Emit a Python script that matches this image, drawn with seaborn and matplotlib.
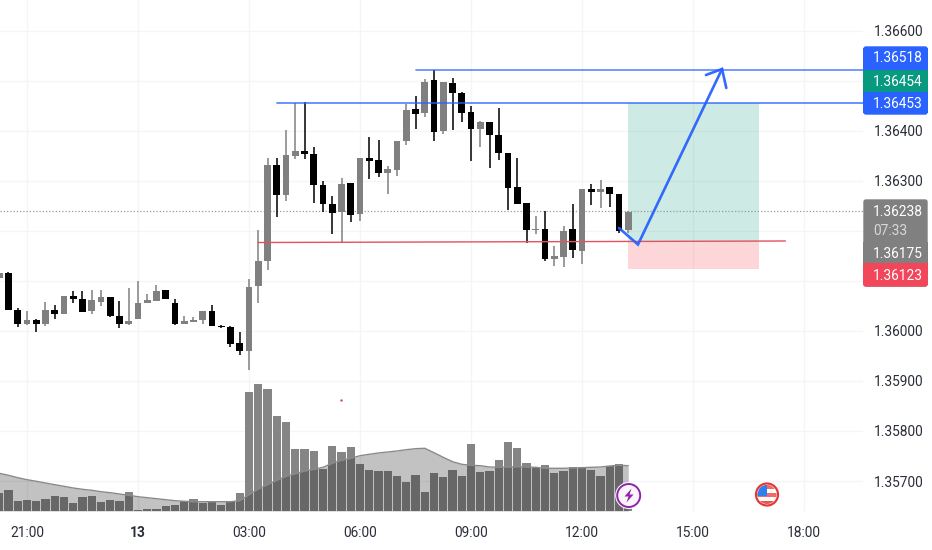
import numpy as np
import pandas as pd
import matplotlib
matplotlib.use("Agg")
import matplotlib.pyplot as plt
from matplotlib.patches import Rectangle, FancyBboxPatch, Circle, Polygon
import seaborn as sns

# bar index: 0 is the 03:00 candle, one bar is 15 minutes
bar_index = list(range(-27, 42))

opens = [136106,136116,136043,136014,136023,136014,136042,136035,136071,136065,136040,136059,136069,136030,136014,136024,136057,136061,136083,136057,136014,136019,136022,136040,136011,136009,135977,
         135960,136091,136141,136331,136273,136351,136359,136354,136293,136254,136238,136297,136234,136347,136342,136317,136323,136380,136444,136437,136501,136400,136497,136477,136439,136404,136419,136392,136355,136288,136257,136202,136205,136145,136149,136203,136161,136284,136279,136289,136275,136203]
highs = [136116,136118,136046,136040,136025,136059,136052,136071,136081,136080,136083,136082,136069,136060,136087,136101,136074,136093,136083,136065,136030,136029,136039,136053,136013,136010,135998,
         136105,136202,136347,136347,136403,136457,136459,136369,136301,136270,136307,136297,136347,136388,136383,136330,136380,136455,136470,136505,136522,136499,136507,136479,136450,136421,136419,136447,136355,136347,136257,136230,136241,136171,136210,136254,136283,136294,136302,136289,136275,136240]
lows = [136106,136042,136008,136012,135999,136011,136025,136035,136057,136038,136035,136050,136028,136007,136013,136024,136057,136061,136064,136013,136014,136018,136015,136010,136007,135969,135953,
        135923,136057,136123,136229,136260,136345,136345,136257,136239,136194,136177,136218,136221,136305,136309,136274,136311,136372,136405,136429,136380,136395,136402,136418,136341,136369,136327,136343,136242,136255,136177,136194,136141,136130,136128,136147,136135,136253,136246,136249,136196,136197]
closes = [136116,136042,136014,136023,136014,136043,136035,136071,136065,136038,136062,136069,136030,136014,136021,136057,136062,136081,136065,136014,136021,136022,136039,136011,136009,135974,135960,
          136089,136141,136332,136273,136351,136359,136354,136292,136254,136237,136295,136233,136347,136341,136317,136324,136380,136443,136435,136498,136399,136499,136477,136437,136404,136419,136392,136356,136287,136255,136203,136205,136145,136151,136201,136162,136283,136279,136285,136275,136201,136238]

volumes = [177,207,100,110,100,120,147,137,77,137,147,90,110,100,187,10,17,20,50,60,97,123,83,93,63,93,183,
           1187,1270,1217,953,887,617,617,603,423,650,593,640,473,407,397,397,350,290,360,190,383,340,407,350,670,387,397,513,687,630,480,427,463,383,397,437,440,410,350,447,467,30]
volume_ma = [377,357,333,313,297,280,263,247,230,217,207,193,183,170,157,143,133,123,113,103,97,93,93,93,93,93,103,
             163,220,263,307,347,373,400,417,437,477,507,527,553,567,580,590,600,613,623,627,583,537,493,467,457,453,440,437,440,443,440,437,427,427,427,430,433,437,440,450,457,453]

price_ticks = [1.366, 1.365, 1.364, 1.363, 1.362, 1.361, 1.360, 1.359, 1.358, 1.357]
price_labels = ["1.36600", "", "1.36400", "1.36300", "", "", "1.36000", "1.35900", "1.35800", "1.35700"]
time_ticks = [-24, -12, 0, 12, 24, 36, 48, 60]
time_labels = ["21:00", "13", "03:00", "06:00", "09:00", "12:00", "15:00", "18:00"]

upper_price = 1.36518
level_price = 1.36453
last_price = 1.36240
stop_line = [1.36177, 1.36180]
stop_x = [1, 58]
box_x = [41, 55.1]
box_target = 1.36456
box_entry = 1.36178
box_stop = 1.36124
arrow_x = [40, 42.05, 51.14]
arrow_y = [1.36206, 1.36173, 1.36524]
wing_x = [49.4, 51.14, 51.6]
wing_y = [1.36512, 1.36524, 1.36486]
dot_x, dot_y = 9.95, 1.35862

price_tags = [("1.36518", "#2962ff", 46, 70), ("1.36454", "#089981", 70, 92), ("1.36453", "#2962ff", 92, 115),
              ("1.36175", "#808080", 242, 263), ("1.36123", "#f2475a", 263, 287)]

GRID = "#f5f5f5"
DOWN = "#000000"
UP = "#808080"
BLUE = "#2962ff"
TEXT = "#2a2e39"
FS = 9.9

sns.set_theme(style="white")
plt.rcParams["font.family"] = ["Roboto", "DejaVu Sans"]

W, H = 932, 550
fig = plt.figure(figsize=(W / 100, H / 100), dpi=100, facecolor="white")
BOTTOM_PX, RIGHT_PX = 511, 863
rect = [0, 1 - BOTTOM_PX / H, RIGHT_PX / W, BOTTOM_PX / H]
ax = fig.add_axes(rect)
ax2 = ax.twinx()
ax.set_zorder(1)
ax2.set_zorder(2)
ax2.patch.set_alpha(0)

df = pd.DataFrame({"bar": bar_index, "open": opens, "high": highs, "low": lows, "close": closes,
                   "vol": volumes, "ma": volume_ma})
for c in ["open", "high", "low", "close"]:
    df[c] = df[c] / 100000
df["color"] = np.where(df["close"] >= df["open"], UP, DOWN)

# volume pane
sns.barplot(data=df, x="bar", y="vol", native_scale=True, width=0.9, color="#858585",
            saturation=1, linewidth=0, ax=ax2, zorder=2)
ax2.fill_between(df["bar"], 0, df["ma"], color="#141414", alpha=0.26, lw=0, zorder=3)
sns.lineplot(data=df, x="bar", y="ma", color="#8a8a8a", lw=1, ax=ax2, zorder=4)
ax2.set_ylim(0, BOTTOM_PX * 10)
ax2.set_xlabel("")
ax2.set_ylabel("")
ax2.set_yticks([])
ax2.grid(False)
for s in ax2.spines.values():
    s.set_visible(False)

# position box
ax.add_patch(Rectangle((box_x[0], box_entry), box_x[1] - box_x[0], box_target - box_entry,
                       fc="#089981", alpha=0.2, lw=0, zorder=1))
ax.add_patch(Rectangle((box_x[0], box_stop), box_x[1] - box_x[0], box_entry - box_stop,
                       fc="#f23645", alpha=0.2, lw=0, zorder=1))

# candles
ax.vlines(df["bar"], df["low"], df["high"], colors=df["color"], lw=1.1, zorder=3)
ax.bar(df["bar"], (df["close"] - df["open"]).abs(), bottom=df[["open", "close"]].min(axis=1),
       width=0.75, color=df["color"], lw=0, zorder=4)

# drawings
ax.axhline(last_price, color="#9a9a9a", lw=0.9, ls=(0, (1, 1.6)), zorder=2)
ax.plot([18.05, 80], [upper_price + 0.00004] * 2, color=BLUE, alpha=0.7, lw=1.3, zorder=5)
ax.plot([3.03, 80], [level_price + 0.00003] * 2, color=BLUE, alpha=0.75, lw=1.3, zorder=5)
ax.plot(stop_x, stop_line, color="#e4515f", lw=1.0, zorder=5)
ax.plot(arrow_x, arrow_y, color=BLUE, alpha=0.95, lw=1.9, solid_capstyle="round", solid_joinstyle="miter", zorder=6)
ax.plot(wing_x, wing_y, color=BLUE, alpha=0.95, lw=1.9, solid_capstyle="round", solid_joinstyle="miter", zorder=6)
ax.scatter([dot_x], [dot_y], s=3, color="#e0405f", lw=0, zorder=6)

# axes
ax.set_xlim(-249 / 9.25, (RIGHT_PX - 249) / 9.25)
ax.set_ylim(1.35640, 1.36662)
ax.set_yticks(price_ticks)
ax.set_yticklabels(price_labels)
ax.set_xticks(time_ticks)
ax.set_xticklabels(time_labels)
ax.yaxis.tick_right()
ax.tick_params(axis="y", length=0, pad=7.5, labelsize=FS, labelcolor=TEXT)
ax.tick_params(axis="x", length=0, pad=10.7, labelsize=FS, labelcolor=TEXT)
for t in ax.get_xticklabels():
    if t.get_text() == "13":
        t.set_fontweight("bold")
ax.grid(True, color=GRID, lw=1, zorder=0)
ax.set_axisbelow(True)
for s in ax.spines.values():
    s.set_visible(False)

# pixel overlay for price tags and event icons
ov = fig.add_axes([0, 0, 1, 1], zorder=5)
ov.set_xlim(0, W)
ov.set_ylim(H, 0)
ov.axis("off")
ov.patch.set_alpha(0)

def tag(y0, y1, col):
    ov.add_patch(Rectangle((863, y0), 65, y1 - y0, fc=col, lw=0))

ov.add_patch(FancyBboxPatch((864, 47), 63, 67, boxstyle="round,pad=0,rounding_size=2", fc=BLUE, lw=1, ec=BLUE))
ov.add_patch(FancyBboxPatch((864, 200), 63, 86, boxstyle="round,pad=0,rounding_size=2", fc="#808080", lw=1, ec="#808080"))
for label, col, y0, y1 in price_tags:
    tag(y0 if y0 != 46 else 48, y1 if y1 != 115 and y1 != 287 else y1 - 2, col)
    ov.text(873, (y0 + y1) / 2 + (0.5 if y0 != 242 else 1), label, color="white", fontsize=FS, va="center", ha="left")
ov.add_patch(FancyBboxPatch((864, 270), 63, 16, boxstyle="round,pad=0,rounding_size=2", fc="#f2475a", lw=1, ec="#f2475a"))
ov.text(873, 212, "1.36238", color="white", fontsize=FS, va="center", ha="left")
ov.text(873, 231, "07:33", color="#d8d8d8", fontsize=FS, va="center", ha="left")

# lightning icon
ov.add_patch(Circle((628.7, 495.5), 13.5, fc="white", lw=0))
ov.add_patch(Circle((628.7, 495.5), 11.5, fc="#fbf5fc", ec="#8e24aa", lw=1.4))
ov.add_patch(Polygon([(631.5, 488.5), (624.5, 496.5), (628.5, 496.5), (626.5, 502.5), (633.5, 494.5), (629.5, 494.5)],
                     closed=True, fc="#8e24aa", lw=0))

# flag icon
ov.add_patch(Circle((767, 494.5), 13.5, fc="white", lw=0))
clip = Circle((767, 494.5), 9.5, transform=ov.transData)
for (x0, y0, w, h, col) in [(756, 485, 22, 4, "#f06a6a"), (756, 489, 22, 4, "#ffffff"), (756, 493, 22, 4, "#f06a6a"),
                            (756, 497, 22, 4, "#ffffff"), (756, 501, 22, 4, "#e85555"), (757, 485, 10, 11, "#2f80ed")]:
    r = Rectangle((x0, y0), w, h, fc=col, lw=0)
    ov.add_patch(r)
    r.set_clip_path(clip)
ov.add_patch(Circle((767, 494.5), 11, fc="none", ec="#e53935", lw=1.6))

fig.savefig("out.png", dpi=100, facecolor="white")
